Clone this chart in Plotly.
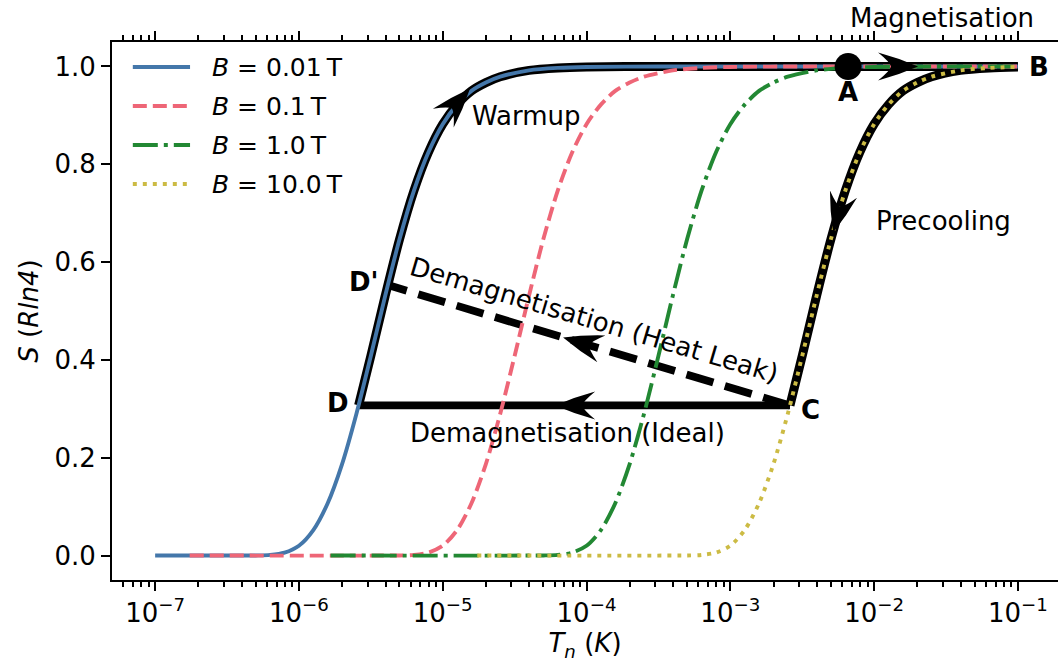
import math
import plotly.graph_objects as go

# Nuclear spin entropy S/(R ln4) versus spin temperature T_n (log10 K) for four fields
logt_b001 = [-7.0, -6.4, -6.3, -6.2, -6.1, -6.0, -5.9, -5.8, -5.7, -5.6, -5.5, -5.4, -5.3, -5.2,
             -5.1, -5.0, -4.9, -4.8, -4.7, -4.6, -4.4, -4.2, -4.0, -3.5, -3.0, -2.0, -1.0]
s_b001 = [0.0, 0.0, 0.0002, 0.0013, 0.006, 0.020, 0.052, 0.107, 0.187, 0.290, 0.408, 0.531, 0.647,
          0.746, 0.824, 0.882, 0.922, 0.950, 0.967, 0.979, 0.992, 0.997, 0.999, 1.0, 1.0, 1.0, 1.0]

logt_b01 = [-6.76, -5.4, -5.3, -5.2, -5.1, -5.0, -4.9, -4.8, -4.7, -4.6, -4.5, -4.4, -4.3, -4.2,
            -4.1, -4.0, -3.9, -3.8, -3.7, -3.6, -3.4, -3.2, -3.0, -2.5, -2.0, -1.0]
s_b01 = [0.0, 0.0, 0.0002, 0.0013, 0.006, 0.020, 0.052, 0.107, 0.187, 0.290, 0.408, 0.531, 0.647,
         0.746, 0.824, 0.882, 0.922, 0.950, 0.967, 0.979, 0.992, 0.997, 0.999, 1.0, 1.0, 1.0]

logt_b1 = [-5.78, -4.4, -4.3, -4.2, -4.1, -4.0, -3.9, -3.8, -3.7, -3.6, -3.5, -3.4, -3.3, -3.2,
           -3.1, -3.0, -2.9, -2.8, -2.7, -2.6, -2.4, -2.2, -2.0, -1.5, -1.0]
s_b1 = [0.0, 0.0, 0.0002, 0.0013, 0.006, 0.020, 0.052, 0.107, 0.187, 0.290, 0.408, 0.531, 0.647,
        0.746, 0.824, 0.882, 0.922, 0.950, 0.967, 0.979, 0.992, 0.997, 0.999, 1.0, 1.0]

logt_b10 = [-4.76, -3.4, -3.3, -3.2, -3.1, -3.0, -2.9, -2.8, -2.7, -2.6, -2.5, -2.4, -2.3, -2.2,
            -2.1, -2.0, -1.9, -1.8, -1.7, -1.6, -1.4, -1.2, -1.0]
s_b10 = [0.0, 0.0, 0.0002, 0.0013, 0.006, 0.020, 0.052, 0.107, 0.187, 0.290, 0.408, 0.531, 0.647,
         0.746, 0.824, 0.882, 0.922, 0.950, 0.967, 0.979, 0.992, 0.997, 0.999]

series_labels = ["<i>B</i> = 0.01\u2009T", "<i>B</i> = 0.1\u2009T",
                 "<i>B</i> = 1.0\u2009T", "<i>B</i> = 10.0\u2009T"]

# Cycle points
t_a, s_a = 6.6e-3, 1.0            # A: start of magnetisation
t_c, s_c = 2.6e-3, 0.307          # C: end of precooling
t_d, s_d = 2.6e-6, 0.307          # D: ideal demagnetisation end
t_dp, s_dp = 4.16e-6, 0.553       # D': demagnetisation with heat leak

x_tick_vals = [1e-7, 1e-6, 1e-5, 1e-4, 1e-3, 1e-2, 1e-1]
x_tick_text = ["10<sup>\u22127</sup>", "10<sup>\u22126</sup>", "10<sup>\u22125</sup>",
               "10<sup>\u22124</sup>", "10<sup>\u22123</sup>", "10<sup>\u22122</sup>",
               "10<sup>\u22121</sup>"]
y_tick_vals = [0.0, 0.2, 0.4, 0.6, 0.8, 1.0]

FONT = "DejaVu Sans"
BLUE, RED, GREEN, YELLOW = "#4477AA", "#EE6677", "#228833", "#CCBB44"


def to_t(logs):
    return [10 ** v for v in logs]


fig = go.Figure()

# Black outline of the warm-up branch (D -> along the 0.01 T curve -> B)
warm_t = [t_d] + [10 ** v for v in logt_b001 if 10 ** v > t_d * 1.05]
warm_s = [s_d] + [s for v, s in zip(logt_b001, s_b001) if 10 ** v > t_d * 1.05]
fig.add_trace(go.Scatter(x=warm_t, y=warm_s, mode="lines", showlegend=False, hoverinfo="skip",
                         line=dict(color="black", width=9, shape="spline", smoothing=0.8)))

# Black outline of the precooling branch (B -> along the 10 T curve -> C)
pre_t = [t_c] + [10 ** v for v in logt_b10 if 10 ** v > t_c * 1.05]
pre_s = [s_c] + [s for v, s in zip(logt_b10, s_b10) if 10 ** v > t_c * 1.05]
fig.add_trace(go.Scatter(x=pre_t, y=pre_s, mode="lines", showlegend=False, hoverinfo="skip",
                         line=dict(color="black", width=9, shape="spline", smoothing=0.8)))

# Ideal demagnetisation C -> D
fig.add_trace(go.Scatter(x=[t_c, t_d], y=[s_c, s_d], mode="lines", showlegend=False,
                         hoverinfo="skip", line=dict(color="black", width=7.8)))
# Demagnetisation with heat leak C -> D'
fig.add_trace(go.Scatter(x=[t_c, t_dp], y=[s_c, s_dp], mode="lines", showlegend=False,
                         hoverinfo="skip", line=dict(color="black", width=7.8, dash="28px,12px")))

curves = [
    (logt_b001, s_b001, BLUE, "solid"),
    (logt_b01, s_b01, RED, "14px,6px"),
    (logt_b1, s_b1, GREEN, "25px,6px,4px,6px"),
    (logt_b10, s_b10, YELLOW, "4px,6px"),
]
for i, (lt, s, col, dash) in enumerate(curves):
    fig.add_trace(go.Scatter(
        x=to_t(lt), y=s, mode="lines", name=series_labels[i], showlegend=False,
        line=dict(color=col, width=3.9, dash=dash, shape="spline", smoothing=0.8)))

# Point A
fig.add_trace(go.Scatter(x=[t_a], y=[s_a], mode="markers", showlegend=False, hoverinfo="skip",
                         marker=dict(color="black", size=27, line=dict(width=0))))

# Legend: line samples and labels in the upper-left corner of the axes
for i, (lt, s, col, dash) in enumerate(curves):
    row_y = 0.9535 - i * 0.0725
    fig.add_shape(type="line", xref="paper", yref="paper", x0=0.022, x1=0.0825,
                  y0=row_y, y1=row_y, line=dict(color=col, width=3.9, dash=dash))
    fig.add_annotation(xref="paper", yref="paper", x=0.104, y=row_y, text=series_labels[i],
                       showarrow=False, xanchor="left", yanchor="middle",
                       font=dict(family=FONT, size=25, color="black"))


def arrowhead(t, s, angle_deg, length=40, half_width=14, notch=27):
    """Filled swept arrowhead whose tip sits at (t, s), pointing at angle_deg (pixel space)."""
    a = math.radians(angle_deg)
    ca, sa = math.cos(a), math.sin(a)

    def r(x, y):
        return f"{x * ca - y * sa:.2f},{x * sa + y * ca:.2f}"

    path = (f"M{r(0, 0)} Q{r(-length * 0.5, half_width * 0.62)} {r(-length, half_width)} "
            f"Q{r(-notch - 1, half_width * 0.3)} {r(-notch, 0)} "
            f"Q{r(-notch - 1, -half_width * 0.3)} {r(-length, -half_width)} "
            f"Q{r(-length * 0.5, -half_width * 0.62)} {r(0, 0)} Z")
    return dict(type="path", xref="x", yref="y", xsizemode="pixel", ysizemode="pixel",
                xanchor=t, yanchor=s, path=path, fillcolor="black",
                line=dict(width=0, color="black"), layer="above")


fig.add_shape(arrowhead(10 ** -4.81, 0.955, 48))     # warm-up
fig.add_shape(arrowhead(10 ** -1.694, 1.0, 0))       # magnetisation
fig.add_shape(arrowhead(10 ** -2.285, 0.660, -105))  # precooling
fig.add_shape(arrowhead(10 ** -4.218, s_c, 180))     # ideal demagnetisation
fig.add_shape(arrowhead(10 ** -4.163, 0.446, 163.4)) # heat-leak demagnetisation


# Text labels (annotation x on a log axis is given in log10 units)
def label(text, lx, y, size=26, bold=False, angle=0, yref="y"):
    fig.add_annotation(x=lx, y=y, xref="x", yref=yref, text=f"<b>{text}</b>" if bold else text,
                       showarrow=False, textangle=angle, xanchor="center", yanchor="middle",
                       font=dict(family=FONT, size=size, color="black"))


label("Magnetisation", -1.530, 1.045, yref="paper")
label("Warmup", -4.420, 0.898)
label("Precooling", -1.517, 0.684)
label("Demagnetisation (Ideal)", -4.134, 0.250)
label("Demagnetisation (Heat Leak)", -3.947, 0.482, angle=16.5)
label("A", -2.181, 0.947, bold=True)
label("B", -0.853, 0.998, bold=True)
label("C", -2.445, 0.297, bold=True)
label("D", -5.730, 0.311, bold=True)
label("D'", -5.547, 0.559, bold=True)

minor_vals = [m * 10 ** e for e in range(-8, 0) for m in range(2, 10)]

fig.update_layout(
    width=1058, height=666,
    margin=dict(l=112, r=0, t=42, b=86),
    paper_bgcolor="white", plot_bgcolor="white",
    font=dict(family=FONT, size=26, color="black"),
    showlegend=False,
)
fig.update_xaxes(
    type="log", range=[-7.3, -0.721], showgrid=False, zeroline=False,
    showline=True, linecolor="black", linewidth=2, mirror="allticks",
    ticks="outside", ticklen=9, tickwidth=2, tickcolor="black",
    tickvals=x_tick_vals, ticktext=x_tick_text, tickfont=dict(family=FONT, size=26),
    minor=dict(tickvals=minor_vals, ticks="outside", ticklen=5, tickwidth=1.5,
               tickcolor="black", showgrid=False),
    title=dict(text="<i>T<sub>n</sub></i> (<i>K</i>)", standoff=0,
               font=dict(family=FONT, size=26)),
)
fig.update_yaxes(
    range=[-0.05, 1.05], showgrid=False, zeroline=False,
    showline=True, linecolor="black", linewidth=2, mirror=False,
    ticks="outside", ticklen=9, tickwidth=2, tickcolor="black",
    tickvals=y_tick_vals, ticktext=[f"{v:.1f}" for v in y_tick_vals],
    tickfont=dict(family=FONT, size=26),
    title=dict(text="<i>S</i> (<i>Rln4</i>)", standoff=8, font=dict(family=FONT, size=26)),
)

fig.write_html("out.html")
